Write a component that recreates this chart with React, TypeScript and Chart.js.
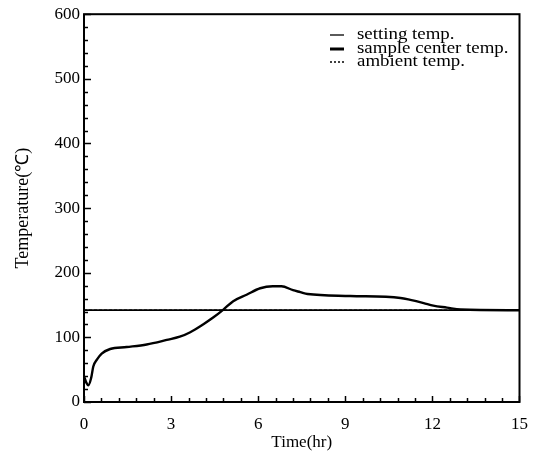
import React, { useEffect, useRef } from "react";
import { Chart, registerables } from "chart.js";

Chart.register(...registerables);

const seriesLabels = ["setting temp.", "sample center temp.", "ambient temp."];

const settingTime = [0, 15];
const settingTemp = [142, 142];

const ambientTime = [0, 15];
const ambientTemp = [142, 142];

const sampleTime = [0, 0.08, 0.15, 0.25, 0.32, 0.45, 0.61, 0.9, 1.47, 2.16, 2.85, 3.3, 3.66, 4.1, 4.46, 4.8, 5.14, 5.6, 6.07, 6.5, 6.8, 7.2, 7.45, 7.7, 9.17, 10.9, 11.24, 11.7, 12.03, 12.5, 12.97, 15];
const sampleTemp = [40, 30, 26, 38, 55, 66, 75, 82, 85, 89, 96, 101, 108, 120, 131, 143, 156, 166, 176, 179, 179, 173, 170, 167, 164, 161, 158, 153, 149, 146, 143, 142];

const xMin = 0;
const xMax = 15;
const xStep = 3;
const xMinor = 0.6;
const yMin = 0;
const yMax = 600;
const yStep = 100;
const yMinor = 20;

const xTitle = "Time(hr)";
const yTitle = "Temperature(℃)";

const FONT = "'Liberation Serif', 'Times New Roman', serif";

const toPoints = (xs: number[], ys: number[]) => xs.map((x, i) => ({ x, y: ys[i] }));

const framePlugin = {
  id: "frameTicks",
  afterDraw(chart: any) {
    const { ctx, chartArea, scales } = chart;
    const xs = scales.x;
    const ys = scales.y;
    ctx.save();
    ctx.strokeStyle = "#000";
    ctx.lineWidth = 2;
    ctx.strokeRect(chartArea.left, chartArea.top, chartArea.right - chartArea.left, chartArea.bottom - chartArea.top);
    ctx.lineWidth = 1.5;
    for (let v = yMin; v <= yMax + 1e-6; v += yMinor) {
      const py = Math.round(ys.getPixelForValue(v)) + 0.5;
      const major = Math.abs(v / yStep - Math.round(v / yStep)) < 1e-6;
      const len = major ? 7 : 4;
      ctx.beginPath();
      ctx.moveTo(chartArea.left, py);
      ctx.lineTo(chartArea.left + len, py);
      ctx.stroke();
    }
    for (let v = xMin; v <= xMax + 1e-6; v += xMinor) {
      const px = Math.round(xs.getPixelForValue(v)) + 0.5;
      const major = Math.abs(v / xStep - Math.round(v / xStep)) < 1e-6;
      const len = major ? 6 : 4;
      ctx.beginPath();
      ctx.moveTo(px, chartArea.bottom);
      ctx.lineTo(px, chartArea.bottom - len);
      ctx.stroke();
    }
    const rows = [
      { y: 35, width: 1.3, dash: [] as number[] },
      { y: 49, width: 3, dash: [] as number[] },
      { y: 62, width: 1.5, dash: [2, 2] },
    ];
    ctx.font = `16px ${FONT}`;
    ctx.fillStyle = "#000";
    ctx.textBaseline = "middle";
    ctx.textAlign = "left";
    rows.forEach((r, i) => {
      ctx.save();
      ctx.lineWidth = r.width;
      ctx.setLineDash(r.dash);
      ctx.beginPath();
      ctx.moveTo(330, r.y);
      ctx.lineTo(344, r.y);
      ctx.stroke();
      ctx.restore();
      ctx.save();
      ctx.translate(357, r.y);
      ctx.scale(1.18, 1);
      ctx.fillText(seriesLabels[i], 0, 0);
      ctx.restore();
    });
    ctx.restore();
  },
};

export default function App() {
  const ref = useRef<HTMLCanvasElement | null>(null);
  useEffect(() => {
    if (!ref.current) return;
    const chart = new Chart(ref.current, {
      type: "line",
      data: {
        datasets: [
          {
            label: seriesLabels[2],
            data: toPoints(ambientTime, ambientTemp),
            borderColor: "#000",
            borderWidth: 1.5,
            borderDash: [3, 2],
            pointRadius: 0,
            order: 3,
          },
          {
            label: seriesLabels[0],
            data: toPoints(settingTime, settingTemp),
            borderColor: "#000",
            borderWidth: 1.8,
            pointRadius: 0,
            order: 2,
          },
          {
            label: seriesLabels[1],
            data: toPoints(sampleTime, sampleTemp),
            borderColor: "#000",
            borderWidth: 2.4,
            pointRadius: 0,
            cubicInterpolationMode: "monotone",
            order: 1,
          },
        ],
      },
      options: {
        animation: false,
        responsive: false,
        layout: { padding: { left: 0, top: 14, right: 20, bottom: 0 } },
        plugins: { legend: { display: false }, tooltip: { enabled: false } },
        scales: {
          x: {
            type: "linear",
            min: xMin,
            max: xMax,
            afterFit: (s: any) => {
              s.height = 59;
            },
            ticks: {
              stepSize: xStep,
              color: "#000",
              font: { family: FONT, size: 17 },
              padding: 12,
              maxRotation: 0,
            },
            grid: { display: false, drawTicks: false },
            border: { display: false },
            title: {
              display: true,
              text: xTitle,
              color: "#000",
              font: { family: FONT, size: 17 },
              padding: { top: 0, bottom: 8 },
            },
          },
          y: {
            type: "linear",
            min: yMin,
            max: yMax,
            afterFit: (s: any) => {
              s.width = 84;
            },
            ticks: {
              stepSize: yStep,
              color: "#000",
              font: { family: FONT, size: 17 },
              padding: 4,
            },
            grid: { display: false, drawTicks: false },
            border: { display: false },
            title: {
              display: true,
              text: yTitle,
              color: "#000",
              font: { family: FONT, size: 18 },
              padding: { top: 12, bottom: 0 },
            },
          },
        },
      },
      plugins: [framePlugin],
    });
    return () => chart.destroy();
  }, []);
  return (
    <div style={{ position: "fixed", left: 0, top: 0, width: 540, height: 461, background: "#fff" }}>
      <canvas ref={ref} width={540} height={461} style={{ display: "block" }} />
    </div>
  );
}
